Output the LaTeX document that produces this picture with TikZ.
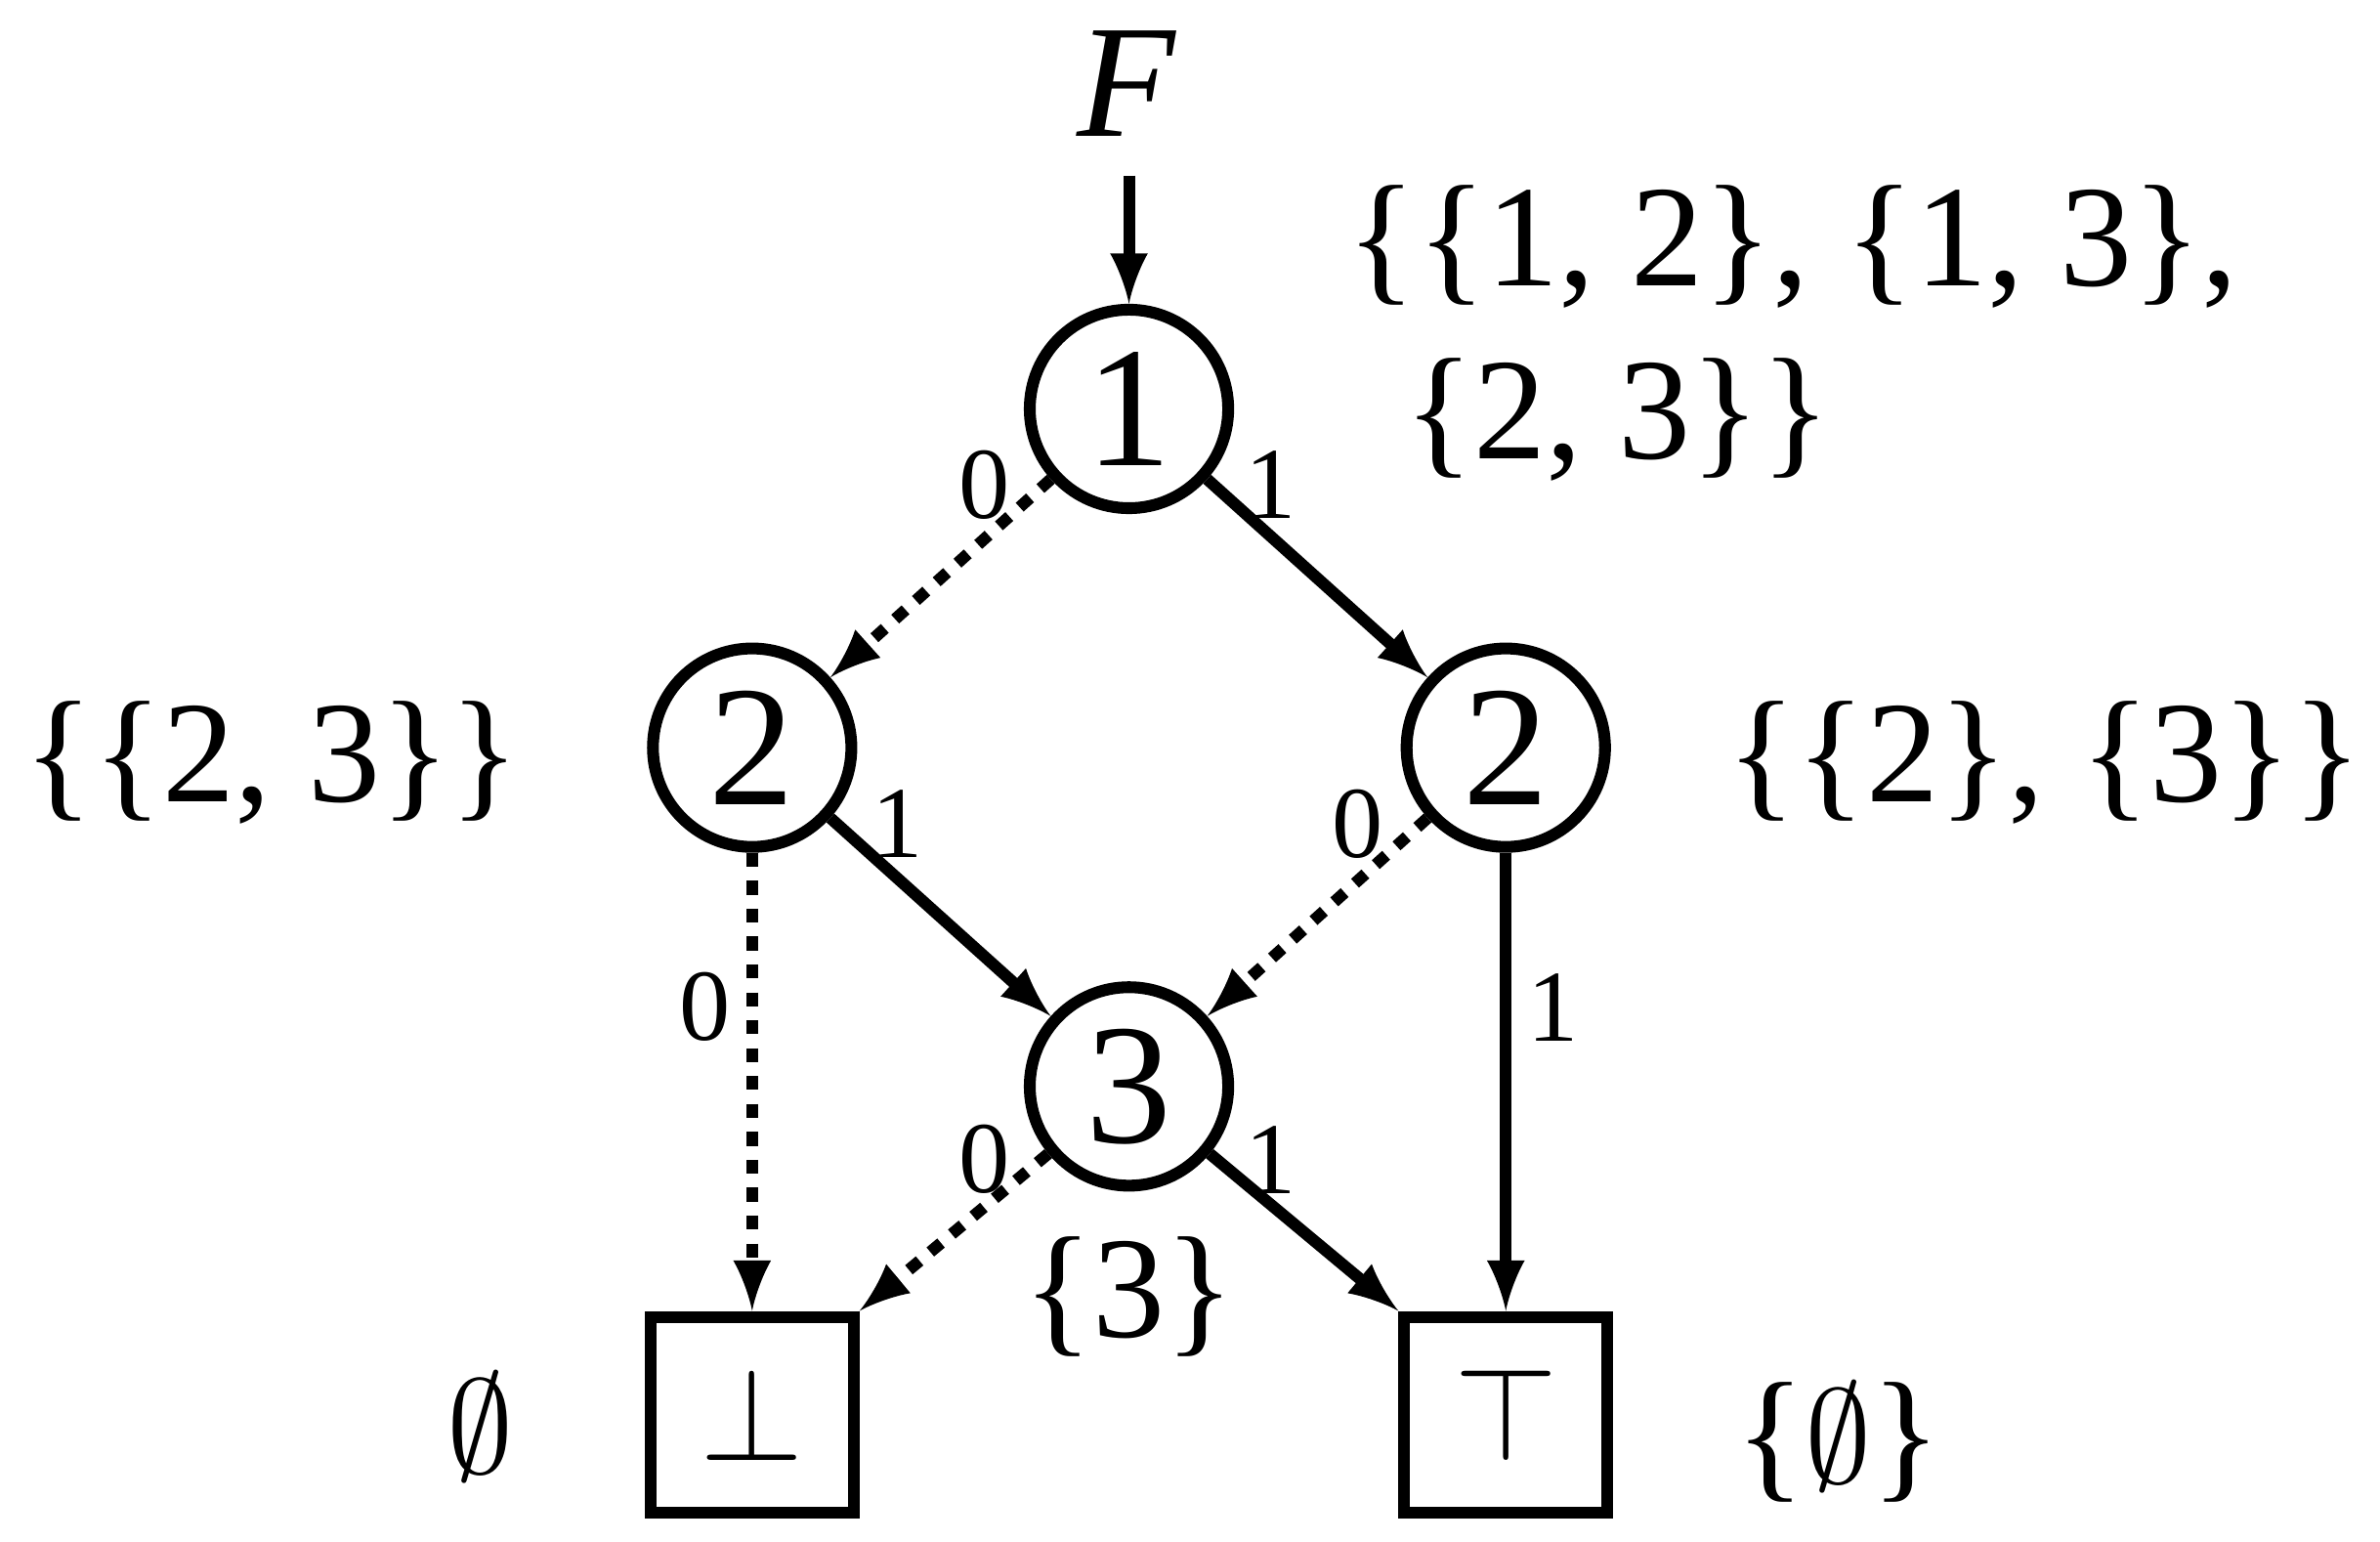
\documentclass[tikz,border=0pt]{standalone}
\usepackage{fontspec}
\setmainfont{Liberation Serif}
\begin{document}
\begin{tikzpicture}[x=0.01cm,y=-0.01cm,
 vnode/.style={circle,draw,line width=2.2pt,minimum size=1.3cm,inner sep=0pt,font=\fontsize{32}{32}\selectfont},
 tnode/.style={rectangle,draw,line width=2.2pt,minimum width=1.33cm,minimum height=1.28cm,inner sep=0pt,font=\fontsize{30}{30}\selectfont},
 hi/.style={line width=2.2pt,-latex},
 lo/.style={line width=2.2pt,-latex,dash pattern=on 2.6pt off 2.6pt},
 el/.style={font=\fontsize{19}{19}\selectfont,inner sep=0pt},
 big/.style={font=\fontsize{27}{30}\selectfont,inner sep=0pt,align=center}]
\useasboundingbox (0,0) rectangle (1560,1010);
\node[vnode] (n1) at (740,268) {1};
\node[vnode] (n2l) at (493,490) {2};
\node[vnode] (n2r) at (987,490) {2};
\node[vnode] (n3) at (740,712) {3};
\node[tnode] (b) at (493,927) {$\bot$};
\node[tnode] (t) at (987,927) {$\top$};
\node[font=\fontsize{30}{30}\selectfont\itshape] (F) at (738,55) {F};
\coordinate (fs) at (740,115);
\draw[hi] (fs) -- (n1);
\draw[lo] (n1) -- (n2l);
\draw[hi] (n1) -- (n2r);
\draw[lo] (n2l) -- (b);
\draw[hi] (n2l) -- (n3);
\draw[lo] (n2r) -- (n3);
\draw[hi] (n2r) -- (t);
\draw[lo] (n3) -- (b.north east);
\draw[hi] (n3) -- (t.north west);
\node[el] at (645,318) {0};
\node[el] at (833,318) {1};
\node[el] at (588,540) {1};
\node[el] at (890,540) {0};
\node[el] at (462,660) {0};
\node[el] at (1018,660) {1};
\node[el] at (645,760) {0};
\node[el] at (833,760) {1};
\node[big] (s1) at (1175,162) {\{\{1, 2\}, \{1, 3\},};
\node[big] (s1b) at (1060,275) {\{2, 3\}\}};
\node[big] (s2) at (178,500) {\{\{2, 3\}\}};
\node[big] (s3) at (1340,500) {\{\{2\}, \{3\}\}};
\node[big] (s4) at (740,850) {\{3\}};
\node[big] (s5) at (315,935) {$\emptyset$};
\node[big] (s6) at (1205,945) {\{$\emptyset$\}};
\end{tikzpicture}
\end{document}
